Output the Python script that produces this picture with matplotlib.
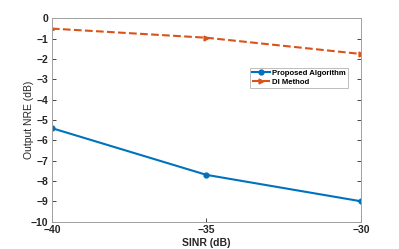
import matplotlib
matplotlib.use("Agg")
import matplotlib.pyplot as plt

sinr = [-40, -35, -30]
proposed = [-5.4, -7.7, -9.0]
di_method = [-0.5, -0.95, -1.75]
xticks = [-40, -35, -30]
yticks = list(range(-10, 1))

plt.rcParams['font.family'] = ['Liberation Sans', 'DejaVu Sans']

fig = plt.figure(figsize=(3.99, 2.49), dpi=100)
ax = fig.add_axes([0.130, 0.110, 0.775, 0.816])
ax.plot(sinr, proposed, '-o', color='#0072BD', lw=1.5, ms=3.5, label='Proposed Algorithm')
ax.plot(sinr, di_method, '-->', color='#D95319', lw=1.5, ms=3.5, label='DI Method')
ax.set_xlim(-40, -30)
ax.set_ylim(-10, 0)
ax.set_xticks(xticks)
ax.set_yticks(yticks)
ax.tick_params(direction='in', length=3, width=0.6, colors='#262626', labelsize=7.5,
               top=False, right=True, pad=2.5)
for lab in ax.get_xticklabels() + ax.get_yticklabels():
    lab.set_fontweight('bold')
for s in ax.spines.values():
    s.set_color('#a0a0a0')
    s.set_linewidth(0.7)
ax.set_xlabel('SINR (dB)', fontsize=7.5, fontweight='bold', color='#262626', labelpad=2)
ax.set_ylabel('Output NRE (dB)', fontsize=7.5, color='#262626', labelpad=-2.5)
leg = ax.legend(loc='upper left', bbox_to_anchor=(0.641, 0.757),
                prop={'weight': 'bold', 'size': 5.6}, frameon=True, fancybox=False,
                borderpad=0.25, handlelength=2.3, labelspacing=0.15, handletextpad=0.3,
                borderaxespad=0)
leg.get_frame().set_edgecolor('#a0a0a0')
leg.get_frame().set_linewidth(0.6)
fig.savefig('out.png', dpi=100)
